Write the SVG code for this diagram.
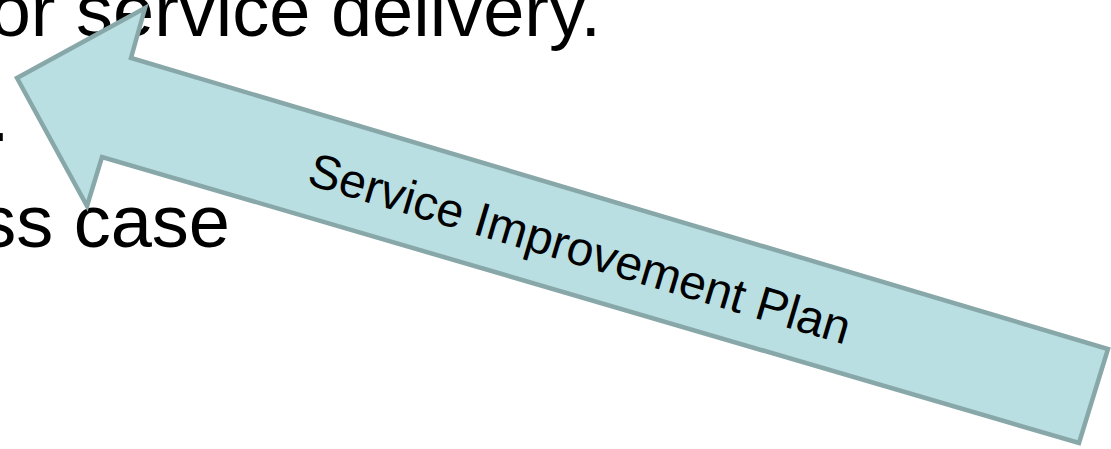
<svg xmlns="http://www.w3.org/2000/svg" width="1111" height="449" viewBox="0 0 1111 449">
  <style>
    .body { font-family: "Liberation Sans", Arial, sans-serif; font-size: 74px; fill: #000000; }
    .arrow { fill: #b9dfe3; stroke: #88a7a9; stroke-width: 4.5; stroke-linejoin: miter; }
    .label { font-family: "Liberation Sans", Arial, sans-serif; font-size: 48px; fill: #000000; text-anchor: middle; }
  </style>
  <rect width="1111" height="449" fill="#ffffff"/>
  <g id="body-text">
    <text class="body" x="601" y="36" text-anchor="end">or service delivery.</text>
    <text class="body" x="-11" y="141">.</text>
    <text class="body" x="230" y="247" text-anchor="end">ss case</text>
  </g>
  <g id="connectors"></g>
  <g id="service-improvement-plan">
    <polygon class="arrow" points="17,78 145,8 131,58 1108,349 1079,443 102,157 87,206"/>
    <text class="label" transform="translate(580,248) rotate(16.6)" x="0" y="17">Service Improvement Plan</text>
  </g>
</svg>
